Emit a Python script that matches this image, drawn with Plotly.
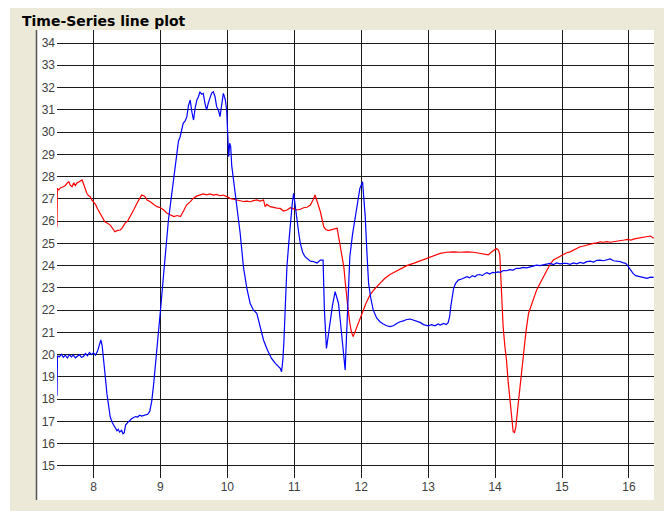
import plotly.graph_objects as go

# ---- data ----
blue_x = [7.455, 7.462, 7.49, 7.52, 7.55, 7.58, 7.61, 7.64, 7.67, 7.70, 7.73, 7.76, 7.79, 7.82, 7.85, 7.88,
          7.91, 7.94, 7.97, 8.00, 8.03, 8.06, 8.09, 8.11, 8.13, 8.15, 8.18, 8.20, 8.23, 8.25, 8.28, 8.30,
          8.33, 8.35, 8.37, 8.39, 8.42, 8.44, 8.46, 8.48, 8.51, 8.54, 8.57, 8.60, 8.63, 8.66, 8.69, 8.72,
          8.75, 8.78, 8.81, 8.84, 8.87, 8.90, 8.93, 8.95, 8.98, 9.01, 9.04, 9.08, 9.12, 9.16, 9.195, 9.22,
          9.245, 9.27, 9.295, 9.32, 9.34, 9.37, 9.395, 9.42, 9.445, 9.47, 9.495, 9.52, 9.545, 9.57, 9.59,
          9.615, 9.64, 9.665, 9.69, 9.715, 9.74, 9.765, 9.79, 9.815, 9.84, 9.865, 9.89, 9.915, 9.94, 9.955,
          9.97, 9.99, 10.005, 10.02, 10.035, 10.05, 10.065, 10.08, 10.11, 10.14, 10.19, 10.24, 10.29, 10.34,
          10.39, 10.44, 10.49, 10.54, 10.60, 10.66, 10.72, 10.76, 10.79, 10.81, 10.83, 10.845, 10.86, 10.875,
          10.89, 10.92, 10.94, 10.97, 10.99, 11.015, 11.04, 11.065, 11.09, 11.125, 11.16, 11.20, 11.24, 11.29,
          11.34, 11.39, 11.43, 11.45, 11.465, 11.48, 11.505, 11.53, 11.57, 11.61, 11.635, 11.66, 11.685, 11.71,
          11.735, 11.76, 11.78, 11.805, 11.83, 11.87, 11.91, 11.945, 11.98, 12.02, 12.04, 12.06, 12.085, 12.11,
          12.145, 12.18, 12.23, 12.28, 12.33, 12.38, 12.43, 12.48, 12.53, 12.58, 12.63, 12.68, 12.73, 12.78,
          12.83, 12.88, 12.93, 12.97, 13.0, 13.05, 13.10, 13.15, 13.18, 13.23, 13.27, 13.30, 13.32, 13.34,
          13.36, 13.38, 13.41, 13.45, 13.50, 13.55, 13.58, 13.62, 13.66, 13.70, 13.73, 13.77, 13.81, 13.85,
          13.88, 13.92, 13.96, 14.0, 14.04, 14.08, 14.12, 14.17, 14.22, 14.27, 14.32, 14.37, 14.42, 14.47,
          14.52, 14.57, 14.62, 14.67, 14.72, 14.77, 14.82, 14.87, 14.92, 14.97, 15.02, 15.07, 15.12, 15.17,
          15.22, 15.27, 15.32, 15.37, 15.42, 15.47, 15.52, 15.57, 15.62, 15.67, 15.72, 15.77, 15.82, 15.87,
          15.92, 15.95, 15.98, 16.02, 16.06, 16.10, 16.14, 16.18, 16.22, 16.27, 16.32, 16.37]
blue_y = [18.15, 19.95, 19.9, 20.02, 19.88, 19.98, 19.85, 20.0, 19.9, 19.98, 19.86, 19.95, 20.0, 19.88, 19.92, 20.05,
          19.95, 20.1, 20.0, 20.08, 19.98, 20.15, 20.45, 20.66, 20.4, 19.9, 18.9, 18.26, 17.6, 17.21, 16.95, 16.84,
          16.7, 16.58, 16.65, 16.52, 16.6, 16.45, 16.5, 16.84, 16.95, 17.05, 17.12, 17.18, 17.22, 17.2, 17.28, 17.24,
          17.26, 17.3, 17.32, 17.45, 17.9, 18.71, 19.6, 20.21, 21.2, 22.3, 23.35, 24.7, 26.05, 27.0, 27.85, 28.6,
          29.19, 29.6, 29.79, 30.2, 30.39, 30.5, 30.69, 31.2, 31.44, 30.9, 30.54, 31.1, 31.44, 31.6, 31.81,
          31.7, 31.74, 31.3, 30.99, 31.3, 31.59, 31.75, 31.81, 31.6, 31.14, 31.0, 30.69, 31.3, 31.74, 31.6,
          31.44, 30.99, 29.34, 28.89, 29.5, 29.34, 28.5, 28.15, 27.4, 26.65, 25.5, 23.95, 23.0, 22.31,
          22.0, 21.86, 21.3, 20.66, 20.2, 19.83, 19.6, 19.45, 19.39, 19.23, 19.8, 20.6, 22.0, 23.2,
          23.95, 25.1, 25.9, 26.8, 27.25, 26.6, 26.05, 25.5, 25.0, 24.6, 24.4, 24.3, 24.2, 24.18,
          24.12, 24.25, 24.25, 22.0, 21.0, 20.28, 20.8, 21.41, 22.2, 22.83, 22.6, 22.31, 21.6, 20.81,
          20.0, 19.31, 20.81, 22.7, 24.4, 25.4, 26.2, 26.9, 27.47, 27.77, 27.1, 26.2, 24.6, 23.2,
          22.5, 22.0, 21.65, 21.48, 21.38, 21.3, 21.26, 21.3, 21.4, 21.48, 21.52, 21.58, 21.6, 21.55,
          21.5, 21.45, 21.35, 21.3, 21.29, 21.35, 21.3, 21.38, 21.33, 21.4, 21.35, 21.45, 21.7, 22.2,
          22.7, 22.98, 23.2, 23.35, 23.4, 23.48, 23.5, 23.45, 23.55, 23.5, 23.58, 23.6, 23.55, 23.65,
          23.68, 23.62, 23.7, 23.68, 23.72, 23.7, 23.78, 23.77, 23.82, 23.8, 23.88, 23.88, 23.92, 23.9,
          23.95, 23.98, 24.02, 24.0, 24.05, 24.07, 24.1, 24.05, 24.12, 24.08, 24.1, 24.1, 24.06, 24.12,
          24.08, 24.14, 24.1, 24.18, 24.2, 24.16, 24.24, 24.25, 24.22, 24.26, 24.3, 24.22, 24.2, 24.18,
          24.12, 24.1, 24.0, 23.8, 23.65, 23.55, 23.52, 23.48, 23.45, 23.43, 23.48, 23.47]

red_x = [7.455, 7.46, 7.48, 7.51, 7.55, 7.58, 7.61, 7.63, 7.655, 7.68, 7.705, 7.73, 7.75, 7.78, 7.81, 7.83,
         7.86, 7.88, 7.90, 7.925, 7.95, 7.975, 8.0, 8.03, 8.06, 8.10, 8.13, 8.17, 8.21, 8.25, 8.28, 8.32,
         8.36, 8.40, 8.43, 8.47, 8.51, 8.55, 8.60, 8.65, 8.69, 8.72, 8.745, 8.77, 8.80, 8.85, 8.90, 8.95,
         9.0, 9.05, 9.10, 9.15, 9.20, 9.25, 9.30, 9.345, 9.39, 9.44, 9.49, 9.54, 9.59, 9.64, 9.69, 9.74,
         9.79, 9.84, 9.89, 9.94, 9.99, 10.04, 10.09, 10.14, 10.19, 10.24, 10.29, 10.34, 10.39, 10.44, 10.49,
         10.54, 10.565, 10.59, 10.64, 10.69, 10.74, 10.79, 10.84, 10.89, 10.94, 10.99, 11.04, 11.09, 11.14,
         11.19, 11.24, 11.28, 11.31, 11.35, 11.39, 11.44, 11.47, 11.51, 11.55, 11.60, 11.64, 11.66, 11.685,
         11.71, 11.74, 11.76, 11.78, 11.805, 11.83, 11.855, 11.88, 11.905, 11.93, 11.97, 12.01, 12.07, 12.13,
         12.20, 12.28, 12.35, 12.43, 12.50, 12.58, 12.68, 12.78, 12.88, 12.98, 13.08, 13.18, 13.28, 13.38,
         13.48, 13.58, 13.68, 13.78, 13.85, 13.90, 13.95, 13.99, 14.02, 14.05, 14.07, 14.09, 14.12, 14.145,
         14.17, 14.195, 14.22, 14.245, 14.27, 14.29, 14.31, 14.335, 14.36, 14.39, 14.42, 14.46, 14.50, 14.57,
         14.62, 14.67, 14.72, 14.77, 14.82, 14.87, 14.92, 14.96, 15.02, 15.07, 15.12, 15.17, 15.22, 15.27,
         15.32, 15.37, 15.42, 15.47, 15.52, 15.57, 15.62, 15.67, 15.72, 15.78, 15.83, 15.88, 15.93, 15.98,
         16.03, 16.08, 16.12, 16.17, 16.22, 16.27, 16.32, 16.37]
red_y = [25.75, 27.47, 27.4, 27.5, 27.54, 27.6, 27.72, 27.77, 27.6, 27.54, 27.72, 27.6, 27.70, 27.75, 27.8, 27.85,
         27.6, 27.4, 27.25, 27.15, 27.10, 26.95, 26.87, 26.75, 26.55, 26.35, 26.2, 25.97, 25.9, 25.82, 25.7, 25.52,
         25.58, 25.6, 25.7, 25.90, 26.0, 26.2, 26.5, 26.80, 27.0, 27.17, 27.15, 27.10, 26.95, 26.87, 26.75, 26.65,
         26.6, 26.50, 26.35, 26.27, 26.2, 26.25, 26.20, 26.45, 26.72, 26.85, 27.02, 27.12, 27.17, 27.22, 27.18, 27.22,
         27.17, 27.2, 27.14, 27.17, 27.10, 27.02, 26.98, 26.95, 26.92, 26.88, 26.9, 26.87, 26.92, 26.95, 26.9,
         26.95, 26.65, 26.75, 26.65, 26.6, 26.58, 26.57, 26.45, 26.50, 26.6, 26.55, 26.5, 26.53, 26.6,
         26.62, 26.72, 26.95, 27.17, 26.8, 26.42, 25.75, 25.62, 25.57, 25.62, 25.65, 25.68, 25.30, 24.8,
         24.40, 23.95, 23.3, 22.60, 22.0, 21.41, 21.0, 20.81, 21.0, 21.26, 21.55, 21.86, 22.3, 22.68,
         22.95, 23.2, 23.42, 23.6, 23.72, 23.85, 24.0, 24.10, 24.22, 24.33, 24.45, 24.55, 24.6, 24.62,
         24.6, 24.62, 24.6, 24.55, 24.5, 24.48, 24.62, 24.72, 24.77, 24.7, 24.5, 23.2, 21.26, 20.4,
         19.76, 18.8, 17.96, 17.2, 16.54, 16.5, 16.76, 17.5, 18.26, 19.2, 20.06, 21.0, 21.86, 22.53,
         22.9, 23.2, 23.5, 23.80, 24.05, 24.25, 24.35, 24.40, 24.5, 24.58, 24.62, 24.70, 24.78, 24.85,
         24.88, 24.93, 24.98, 25.0, 25.02, 25.07, 25.05, 25.08, 25.05, 25.07, 25.1, 25.12, 25.15, 25.18,
         25.15, 25.2, 25.22, 25.23, 25.28, 25.3, 25.33, 25.23]

x_ticks = [8, 9, 10, 11, 12, 13, 14, 15, 16]
y_ticks = list(range(15, 35))
title_text = "Time-Series line plot"

# ---- layout geometry (window pixels; the page body adds an 8px offset) ----
OFF = 8
W, H = 672 - OFF, 511 - OFF
left_px, right_px, top_px, bottom_px = 57, 654, 30, 478   # data area in window pixels
L = left_px - OFF
T = top_px - OFF
R = W - (right_px - OFF)
B = H - (bottom_px - OFF)
pw, ph = W - L - R, H - T - B


def px(xp):
    return (xp - left_px) / pw


def py(yp):
    return (bottom_px - yp) / ph


fig = go.Figure()
fig.add_trace(go.Scatter(x=red_x, y=red_y, mode="lines",
                         line=dict(color="#ff0000", width=1.2), showlegend=False))
fig.add_trace(go.Scatter(x=blue_x, y=blue_y, mode="lines",
                         line=dict(color="#0000ff", width=1.2), showlegend=False))

shapes = [
    # beige panel
    dict(type="rect", xref="paper", yref="paper", x0=px(10), x1=px(667), y0=py(515), y1=py(7),
         fillcolor="#ece9d8", line=dict(width=0), layer="below"),
    # white plotting box
    dict(type="rect", xref="paper", yref="paper", x0=px(36), x1=px(654), y0=py(500), y1=py(30),
         fillcolor="#ffffff", line=dict(width=0), layer="below"),
    # left border of the box
    dict(type="line", xref="paper", yref="paper", x0=px(36.5), x1=px(36.5), y0=py(500), y1=py(30),
         line=dict(color="#555555", width=1.5), layer="above"),
]

fig.update_layout(
    width=W, height=H,
    margin=dict(l=L, r=R, t=T, b=B, pad=0),
    paper_bgcolor="#ffffff",
    plot_bgcolor="rgba(0,0,0,0)",
    shapes=shapes,
    font=dict(family="Liberation Sans, Arial, sans-serif", size=12, color="#404040"),
    annotations=[dict(text="<b>" + title_text + "</b>", xref="paper", yref="paper",
                      x=px(20), y=py(21), xanchor="left", yanchor="middle", showarrow=False,
                      font=dict(size=14, color="#000000",
                                family="DejaVu Sans, Verdana, sans-serif"))],
)
fig.update_xaxes(range=[7.455, 16.374], tickvals=x_ticks, showgrid=True,
                 gridcolor="#1a1a1a", gridwidth=1, zeroline=False, showline=False,
                 ticks="", tickfont=dict(size=12, color="#404040"))
fig.update_yaxes(range=[14.46, 34.584], tickvals=y_ticks, showgrid=True,
                 gridcolor="#1a1a1a", gridwidth=1, zeroline=False, showline=False,
                 ticks="", ticklabelstandoff=1, tickfont=dict(size=12, color="#404040"))

fig.write_html("out.html")
